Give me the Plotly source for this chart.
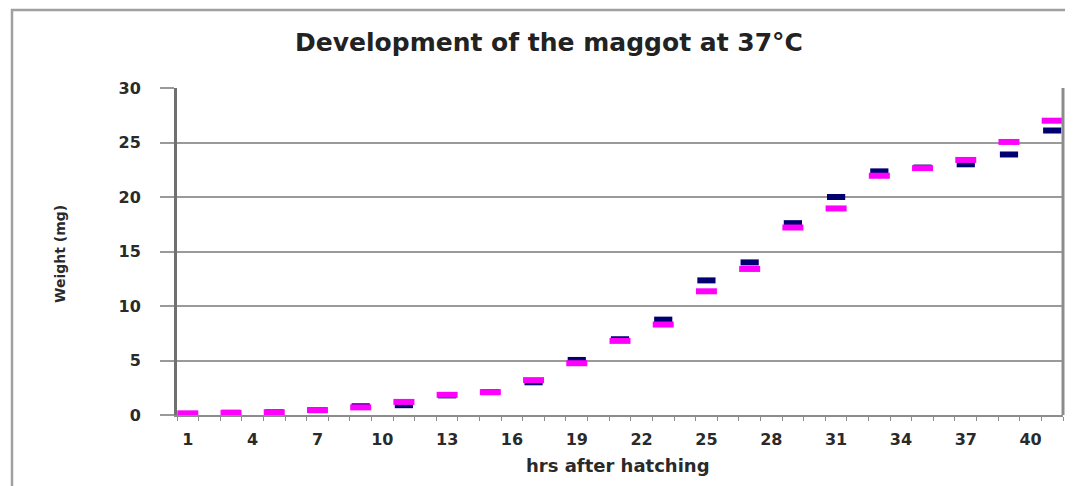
import plotly.graph_objects as go

hours = [1, 3, 5, 7, 9, 11, 13, 15, 17, 19, 21, 23, 25, 27, 29, 31, 33, 35, 37, 39, 41]
series_a = [0.1, 0.2, 0.25, 0.45, 0.8, 0.9, 1.8, 2.1, 3.0, 5.05, 6.95, 8.75, 12.35, 14.0,
            17.6, 20.0, 22.35, 22.7, 23.0, 23.9, 26.1]
series_b = [0.15, 0.2, 0.25, 0.45, 0.7, 1.2, 1.85, 2.1, 3.2, 4.75, 6.8, 8.3, 11.35, 13.4,
            17.2, 18.95, 21.95, 22.65, 23.4, 25.05, 27.0]
x_ticks = [1, 4, 7, 10, 13, 16, 19, 22, 25, 28, 31, 34, 37, 40]
y_ticks = [0, 5, 10, 15, 20, 25, 30]

FONT = "DejaVu Sans"
TXT = "#2a2a2a"

fig = go.Figure()
fig.add_trace(go.Scatter(
    x=hours, y=series_a, mode="markers", name="A",
    marker=dict(symbol="line-ew", size=13, color="#000070",
                line=dict(width=6, color="#000070")),
))
fig.add_trace(go.Scatter(
    x=hours, y=series_b, mode="markers", name="B",
    marker=dict(symbol="line-ew", size=15, color="#ff00ff",
                line=dict(width=6, color="#ff00ff")),
))

# page offset (default body margin)
OFF = 8
SW, SH = 1073, 486
W, H = SW - OFF, SH - OFF
# plot area in screen pixels
L, R, T, B = 177, 1063, 88, 415
pw, ph = R - L, B - T

def px(x):
    return (x - L) / pw

def py(y):
    return (B - y) / ph

fig.update_layout(
    width=W, height=H,
    margin=dict(l=L - OFF, r=SW - R, t=T - OFF, b=SH - B),
    paper_bgcolor="white", plot_bgcolor="white",
    showlegend=False,
    title=dict(text="<b>Development of the maggot at 37°C</b>",
               x=(549 - OFF) / W, xanchor="center",
               y=1 - (42 - OFF) / H, yanchor="middle", yref="container",
               font=dict(family=FONT, size=25, color="#222")),
    xaxis=dict(range=[0.5, 41.5], tickmode="array", tickvals=x_ticks,
               ticktext=[str(v) for v in x_ticks],
               showgrid=False, zeroline=False,
               showline=True, linecolor="#8c8c8c", linewidth=2,
               ticks="", ticklabelstandoff=9,
               minor=dict(tickmode="linear", tick0=0.5, dtick=1, ticks="outside",
                          ticklen=4, tickcolor="#8c8c8c", tickwidth=1, showgrid=False),
               tickfont=dict(family=FONT, size=16, color=TXT, weight="bold")),
    yaxis=dict(range=[0, 30], tickmode="array", tickvals=y_ticks,
               showgrid=True, gridcolor="#9a9a9a", gridwidth=1.5,
               zeroline=False,
               showline=True, linecolor="#707070", linewidth=3,
               ticks="outside", ticklen=14, tickcolor="#9a9a9a", tickwidth=1.5,
               ticklabelstandoff=16,
               tickfont=dict(family=FONT, size=16, color=TXT, weight="bold")),
)

# plot area right border
fig.add_shape(type="line", xref="paper", yref="paper", x0=1, x1=1, y0=0, y1=1,
              line=dict(color="#8c8c8c", width=3))
# outer chart border
fig.add_shape(type="rect", xref="paper", yref="paper",
              x0=px(12), x1=px(1090), y0=py(500), y1=py(10),
              line=dict(color="#a0a0a0", width=2.5))

fig.add_annotation(text="<b>hrs after hatching</b>", xref="paper", yref="paper",
                   x=px(618), y=py(465), xanchor="center", yanchor="middle",
                   showarrow=False,
                   font=dict(family=FONT, size=18, color=TXT))
fig.add_annotation(text="<b>Weight (mg)</b>", xref="paper", yref="paper",
                   x=px(60), y=py(254), xanchor="center", yanchor="middle",
                   showarrow=False, textangle=-90,
                   font=dict(family=FONT, size=14, color=TXT))

fig.write_html("out.html")
